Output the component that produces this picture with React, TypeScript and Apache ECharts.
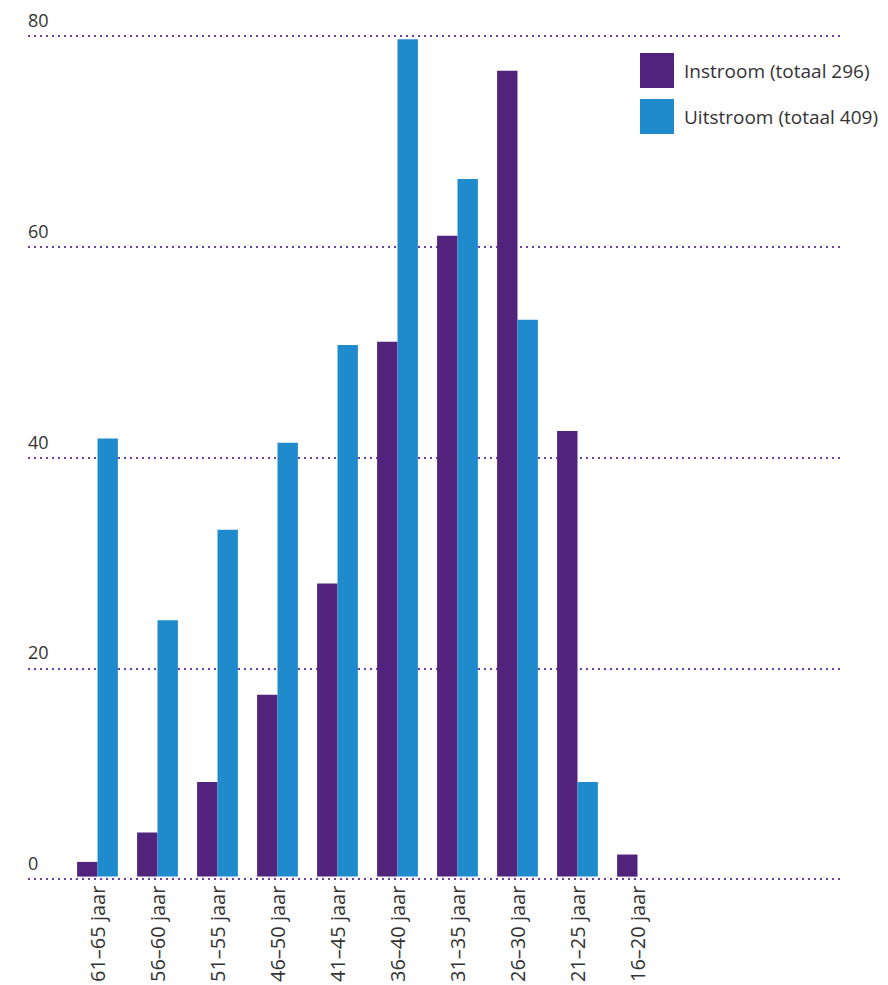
import React, { useEffect, useRef } from "react";
import * as echarts from "echarts";

const categories = [
  "61–65 jaar",
  "56–60 jaar",
  "51–55 jaar",
  "46–50 jaar",
  "41–45 jaar",
  "36–40 jaar",
  "31–35 jaar",
  "26–30 jaar",
  "21–25 jaar",
  "16–20 jaar",
];
const instroom = [1.4, 4.2, 9, 17.3, 27.9, 50.9, 61, 76.7, 42.4, 2.1];
const uitstroom = [41.7, 24.4, 33, 41.3, 50.6, 79.7, 66.4, 53, 9, 0];
const seriesNames = ["Instroom (totaal 296)", "Uitstroom (totaal 409)"];
const yTicks = { min: 0, max: 80, interval: 20 };

const FONT = "Open Sans";

export default function App() {
  const ref = useRef<HTMLDivElement>(null);
  useEffect(() => {
    if (!ref.current) return;
    const chart = echarts.init(ref.current, null, { renderer: "svg" });
    const top = 36;
    const bottom = 985 - 879;
    chart.setOption({
      animation: false,
      backgroundColor: "#ffffff",
      textStyle: { fontFamily: FONT },
      legend: {
        orient: "vertical",
        left: 635,
        top: 48,
        itemWidth: 34,
        itemHeight: 35,
        itemGap: 11,
        icon: "rect",
        textStyle: {
          fontSize: 19,
          color: "#333333",
          fontFamily: FONT,
          padding: [0, 0, 0, 5],
        },
        data: seriesNames,
      },
      grid: [
        { left: 28, right: 48, top, bottom },
        { left: 67.5, width: 600, top, bottom },
      ],
      xAxis: [
        { type: "value", gridIndex: 0, min: 0, max: 1, show: false },
        {
          type: "category",
          gridIndex: 1,
          data: categories,
          axisLine: { show: false },
          axisTick: { show: false },
          axisLabel: {
            rotate: 90,
            margin: 9,
            fontSize: 20,
            color: "#333333",
            fontFamily: FONT,
            interval: 0,
          },
        },
      ],
      yAxis: [
        {
          type: "value",
          gridIndex: 0,
          min: yTicks.min,
          max: yTicks.max,
          interval: yTicks.interval,
          axisLine: { show: false },
          axisTick: { show: false },
          axisLabel: {
            inside: true,
            align: "left",
            verticalAlign: "bottom",
            margin: 0,
            padding: [0, 0, 7, 0],
            fontSize: 18,
            color: "#333333",
            fontFamily: FONT,
          },
          splitLine: {
            show: true,
            lineStyle: { color: "#6f3fa6", type: [2, 4], width: 2 },
          },
        },
        {
          type: "value",
          gridIndex: 1,
          min: yTicks.min,
          max: yTicks.max,
          interval: yTicks.interval,
          show: false,
          splitLine: { show: false },
        },
      ],
      series: [
        {
          name: seriesNames[0],
          type: "bar",
          xAxisIndex: 1,
          yAxisIndex: 1,
          data: instroom,
          barGap: "0%",
          barCategoryGap: "32%",
          itemStyle: { color: "#52237c" },
        },
        {
          name: seriesNames[1],
          type: "bar",
          xAxisIndex: 1,
          yAxisIndex: 1,
          data: uitstroom,
          barGap: "0%",
          barCategoryGap: "32%",
          itemStyle: { color: "#1f8bcc" },
        },
      ],
    });
    return () => chart.dispose();
  }, []);
  return (
    <div
      ref={ref}
      style={{ position: "fixed", left: 0, top: 0, width: 888, height: 985 }}
    />
  );
}
